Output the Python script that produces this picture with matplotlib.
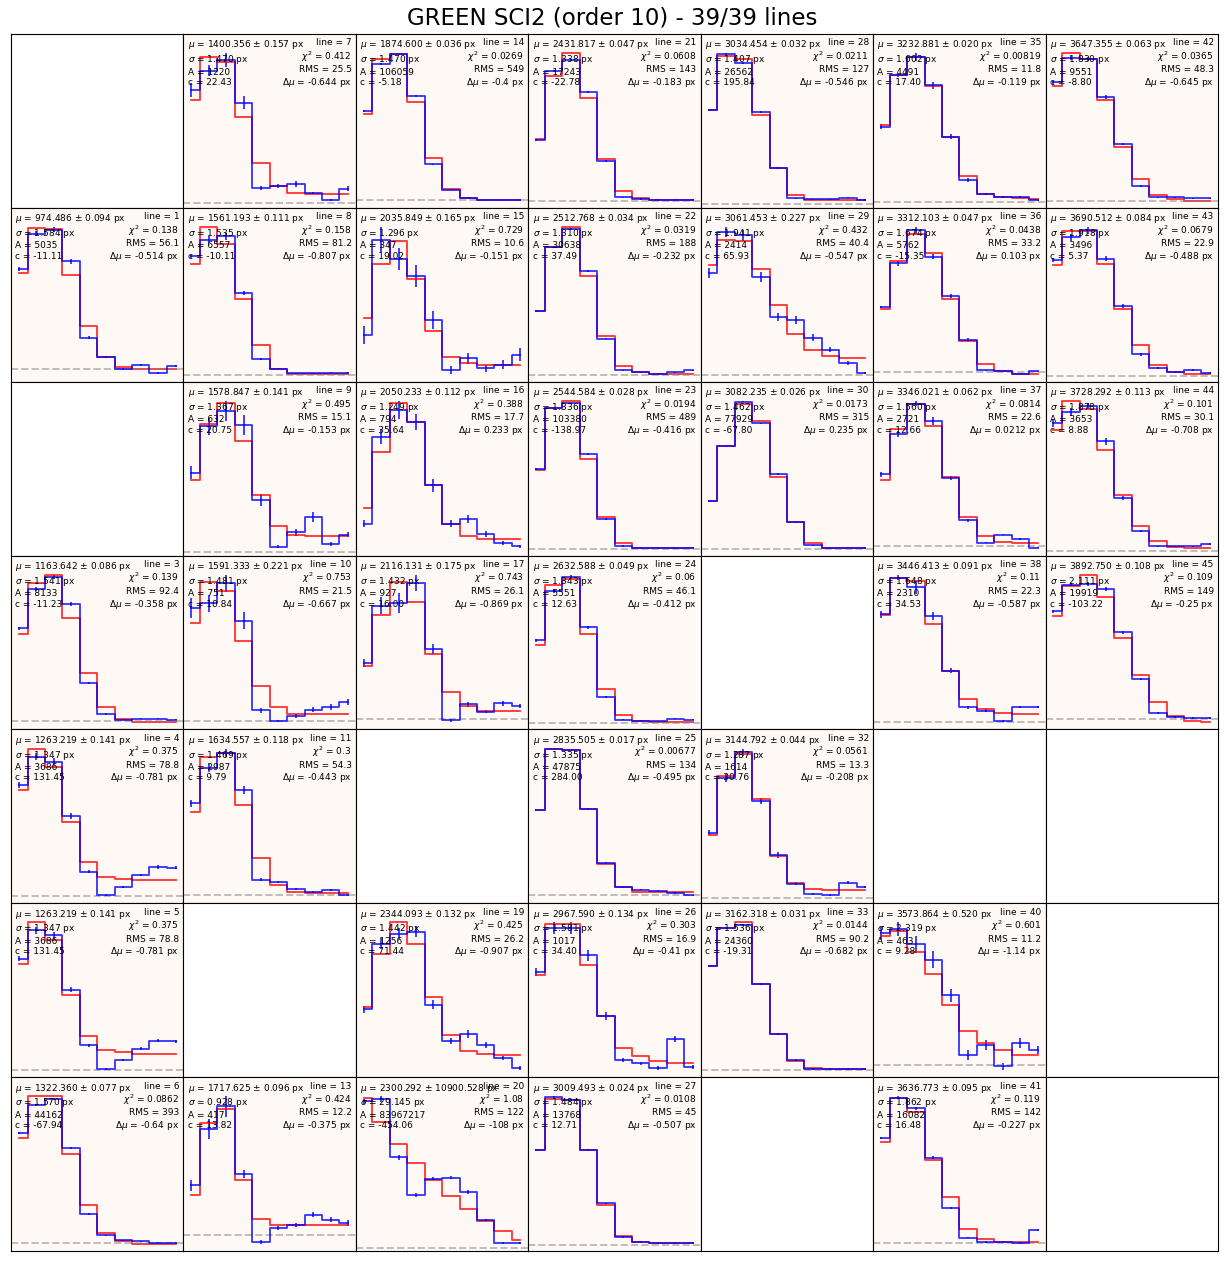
import numpy as np
import matplotlib.pyplot as plt

# fitted lines, laid out column-wise (7 per column)
line_ids = [1, 3, 4, 5, 6, 7, 8, 9, 10, 11, 13, 14, 15, 16, 17, 19, 20,
            21, 22, 23, 24, 25, 26, 27, 28, 29, 30, 32, 33, 35, 36, 37, 38,
            40, 41, 42, 43, 44, 45]

mu = [974.486, 1163.642, 1263.219, 1263.219, 1322.360, 1400.356, 1561.193, 1578.847,
      1591.333, 1634.557, 1717.625, 1874.600, 2035.849, 2050.233, 2116.131, 2344.093,
      2300.292, 2431.817, 2512.768, 2544.584, 2632.588, 2835.505, 2967.590, 3009.493,
      3034.454, 3061.453, 3082.235, 3144.792, 3162.318, 3232.881, 3312.103, 3346.021,
      3446.413, 3573.864, 3636.773, 3647.355, 3690.512, 3728.292, 3892.750]
mu_err = [0.094, 0.086, 0.141, 0.141, 0.077, 0.157, 0.111, 0.141, 0.221, 0.118, 0.096,
          0.036, 0.165, 0.112, 0.175, 0.132, 10900.528, 0.047, 0.034, 0.028, 0.049,
          0.017, 0.134, 0.024, 0.032, 0.227, 0.026, 0.044, 0.031, 0.020, 0.047, 0.062,
          0.091, 0.520, 0.095, 0.063, 0.084, 0.113, 0.108]
sigma = [1.584, 1.541, 1.347, 1.347, 1.570, 1.470, 1.535, 1.367, 1.481, 1.469, 0.928,
         1.470, 1.296, 1.249, 1.432, 1.442, 29.145, 1.338, 1.310, 1.336, 1.343, 1.335,
         1.581, 1.484, 1.407, 1.941, 1.462, 1.287, 1.536, 1.602, 1.674, 1.560, 1.648,
         2.319, 1.862, 1.830, 1.918, 1.878, 2.111]
amp = [5035, 8133, 3686, 3686, 44162, 1220, 6557, 632, 751, 2987, 417, 106059, 347,
       794, 927, 1256, 83967217, 17243, 30638, 103380, 5551, 47875, 1017, 13768, 26562,
       2414, 77929, 1614, 24360, 4491, 5762, 2721, 2310, 463, 16082, 9551, 3496, 3653,
       19919]
const = [-11.11, -11.23, 131.45, 131.45, -67.94, 22.43, -10.11, 20.75, 10.84, 9.79,
         13.82, -5.18, 19.02, 35.64, 16.00, 71.44, -454.06, -22.78, 37.49, -138.97,
         12.63, 284.00, 34.40, 12.71, 195.84, 65.93, -67.80, 30.76, -19.31, 17.40,
         -15.35, 12.66, 34.53, 9.28, 16.48, -8.80, 5.37, 8.88, -103.22]
chi2 = [0.138, 0.139, 0.375, 0.375, 0.0862, 0.412, 0.158, 0.495, 0.753, 0.3, 0.424,
        0.0269, 0.729, 0.388, 0.743, 0.425, 1.08, 0.0608, 0.0319, 0.0194, 0.06,
        0.00677, 0.303, 0.0108, 0.0211, 0.432, 0.0173, 0.0561, 0.0144, 0.00819,
        0.0438, 0.0814, 0.11, 0.601, 0.119, 0.0365, 0.0679, 0.101, 0.109]
rms = [56.1, 92.4, 78.8, 78.8, 393, 25.5, 81.2, 15.1, 21.5, 54.3, 12.2, 549, 10.6,
       17.7, 26.1, 26.2, 122, 143, 188, 489, 46.1, 134, 16.9, 45, 127, 40.4, 315, 13.3,
       90.2, 11.8, 33.2, 22.6, 22.3, 11.2, 142, 48.3, 22.9, 30.1, 149]
dmu = [-0.514, -0.358, -0.781, -0.781, -0.64, -0.644, -0.807, -0.153, -0.667, -0.443,
       -0.375, -0.4, -0.151, 0.233, -0.869, -0.907, -108, -0.183, -0.232, -0.416,
       -0.412, -0.495, -0.41, -0.507, -0.546, -0.547, 0.235, -0.208, -0.682, -0.119,
       0.103, 0.0212, -0.587, -1.14, -0.227, -0.645, -0.488, -0.708, -0.25]

# extracted line profile (blue) per line, relative counts
obs = {
    1: [301, 406, 418, 323, 93, 34, -2, 11, -14, 8],
    3: [275, 393, 428, 348, 113, 20, 3, 6, 6, 3],
    4: [333, 418, 403, 240, 73, 3, 28, 63, 87, 85],
    5: [333, 418, 403, 240, 73, 3, 28, 63, 87, 85],
    6: [327, 410, 427, 282, 85, 22, 7, 4, 0, 0],
    7: [333, 390, 421, 296, 45, 51, 57, 31, 11, 43],
    8: [352, 402, 412, 244, 49, 19, 5, 5, 7, 7],
    9: [234, 372, 417, 375, 152, 15, 57, 102, 24, 50],
    10: [337, 352, 412, 300, 32, 0, 15, 34, 42, 57],
    11: [272, 377, 422, 312, 45, 37, 19, 10, 15, 0],
    13: [148, 315, 383, 181, -20, 21, 30, 61, 46, 36],
    14: [265, 407, 435, 309, 106, 31, 7, 0, 0, 0],
    15: [142, 404, 352, 304, 182, 45, 77, 50, 60, 87],
    16: [95, 340, 415, 381, 203, 95, 108, 66, 40, 31],
    17: [170, 343, 351, 411, 213, -4, 45, 23, 48, 41],
    19: [200, 380, 407, 412, 213, 113, 133, 103, 67, 40],
    20: [433, 440, 268, 156, 205, 208, 165, 83, 16, 16],
    21: [179, 385, 419, 324, 118, 10, 5, 2, 2, 2],
    22: [192, 382, 435, 312, 108, 13, 7, 3, 7, 13],
    23: [236, 418, 431, 281, 88, 8, 3, 3, 3, 3],
    24: [245, 392, 433, 283, 77, 10, 7, 5, 13, 10],
    25: [255, 435, 432, 257, 97, 24, 17, 14, 7, 0],
    26: [303, 421, 421, 348, 185, 66, 57, 45, 123, 48],
    27: [280, 436, 428, 280, 123, 24, 9, 6, 6, 6],
    28: [278, 444, 419, 272, 106, 16, 13, 13, 18, 11],
    29: [302, 424, 414, 290, 172, 164, 110, 75, 36, 5],
    30: [140, 303, 435, 371, 221, 78, 10, 3, 3, 3],
    32: [190, 349, 424, 282, 125, 42, 12, 9, 45, 32],
    33: [303, 414, 423, 249, 105, 30, 3, 3, 3, 3],
    35: [226, 381, 436, 351, 196, 66, 24, 13, 13, 6],
    36: [195, 325, 423, 345, 228, 98, 6, 3, -4, 3],
    37: [212, 332, 422, 370, 200, 75, 9, 32, 20, -6],
    38: [315, 422, 393, 310, 150, 43, 33, 3, 45, 45],
    40: [390, 402, 357, 312, 207, 30, 60, -3, 66, 45],
    41: [294, 408, 378, 240, 99, 15, 3, 3, 0, 36],
    42: [352, 425, 420, 308, 168, 43, 10, 10, 7, 7],
    43: [342, 410, 430, 347, 207, 65, 24, 14, 20, 9],
    44: [380, 412, 430, 325, 155, 58, 13, 13, 13, 20],
    45: [320, 400, 402, 387, 257, 119, 17, 5, 2, 2],
}

obs_err = {
    1: [6, 8, 8, 8, 4, 3, 3, 3, 3, 3],
    3: [5, 6, 6, 5, 3, 2, 2, 2, 2, 2],
    4: [8, 10, 10, 8, 5, 3, 3, 4, 5, 5],
    5: [8, 10, 10, 8, 5, 3, 3, 4, 5, 5],
    6: [3, 3, 3, 3, 2, 2, 2, 2, 2, 2],
    7: [20, 15, 20, 18, 5, 5, 8, 3, 3, 8],
    8: [5, 10, 10, 5, 3, 2, 2, 2, 2, 2],
    9: [20, 25, 30, 30, 18, 5, 10, 15, 6, 8],
    10: [30, 25, 25, 25, 8, 3, 5, 8, 8, 10],
    11: [10, 12, 12, 12, 4, 3, 3, 3, 3, 3],
    13: [15, 30, 30, 12, 5, 5, 5, 8, 8, 8],
    14: [3, 3, 3, 3, 2, 2, 2, 2, 2, 2],
    15: [25, 35, 30, 30, 25, 12, 15, 10, 12, 18],
    16: [10, 22, 25, 22, 18, 10, 12, 8, 5, 5],
    17: [12, 25, 30, 25, 15, 5, 8, 5, 8, 6],
    19: [10, 15, 15, 15, 12, 8, 10, 8, 6, 5],
    20: [8, 8, 8, 6, 5, 5, 5, 4, 3, 3],
    21: [3, 3, 3, 3, 2, 2, 2, 2, 2, 2],
    22: [3, 3, 3, 3, 2, 2, 2, 2, 2, 2],
    23: [2, 2, 2, 2, 2, 2, 2, 2, 2, 2],
    24: [5, 6, 6, 5, 3, 2, 2, 2, 2, 2],
    25: [2, 2, 2, 2, 2, 2, 2, 2, 2, 2],
    26: [10, 15, 15, 15, 10, 5, 5, 5, 8, 5],
    27: [3, 3, 3, 3, 2, 2, 2, 2, 2, 2],
    28: [3, 3, 3, 3, 2, 2, 2, 2, 2, 2],
    29: [15, 15, 15, 15, 12, 12, 10, 8, 6, 4],
    30: [2, 2, 2, 2, 2, 2, 2, 2, 2, 2],
    32: [8, 12, 10, 10, 8, 4, 3, 3, 4, 4],
    33: [3, 3, 3, 3, 2, 2, 2, 2, 2, 2],
    35: [8, 5, 12, 10, 8, 6, 3, 3, 3, 3],
    36: [4, 8, 10, 8, 5, 4, 2, 2, 2, 2],
    37: [8, 8, 8, 12, 6, 4, 2, 2, 2, 2],
    38: [10, 8, 18, 12, 8, 4, 4, 3, 3, 3],
    40: [20, 20, 25, 25, 20, 15, 15, 10, 15, 12],
    41: [3, 4, 4, 4, 3, 2, 2, 2, 2, 2],
    42: [4, 6, 6, 5, 4, 3, 2, 2, 2, 2],
    43: [6, 10, 10, 8, 6, 4, 3, 3, 3, 3],
    44: [12, 12, 10, 10, 6, 4, 2, 2, 2, 2],
    45: [4, 5, 6, 6, 4, 3, 2, 2, 2, 2],
}

# gaussian + constant model (red)
model = {
    1: [288, 423, 421, 281, 129, 34, 5, -2, -2, -2],
    3: [258, 411, 435, 305, 141, 41, 6, -4, -4, -4],
    4: [318, 442, 388, 223, 102, 58, 52, 48, 48, 48],
    5: [318, 442, 388, 223, 102, 58, 52, 48, 48, 48],
    6: [310, 435, 435, 265, 112, 30, 4, -3, -3, -3],
    7: [303, 431, 415, 255, 117, 51, 29, 27, 27, 27],
    8: [330, 439, 389, 225, 89, 19, 4, 2, 2, 2],
    9: [212, 379, 440, 329, 169, 75, 50, 45, 45, 45],
    10: [294, 415, 389, 240, 105, 42, 22, 22, 22, 22],
    11: [247, 409, 422, 267, 109, 30, 10, 7, 7, 7],
    13: [121, 333, 376, 165, 48, 31, 31, 31, 31, 31],
    14: [256, 422, 435, 292, 124, 34, 7, 0, 0, 0],
    15: [189, 337, 400, 295, 152, 82, 64, 60, 60, 60],
    16: [138, 296, 435, 381, 205, 93, 60, 53, 53, 53],
    17: [161, 315, 413, 355, 198, 83, 40, 26, 26, 26],
    19: [208, 352, 438, 380, 235, 130, 87, 78, 75, 75],
    20: [443, 371, 308, 251, 200, 155, 115, 81, 50, 23],
    21: [184, 371, 438, 304, 125, 28, 7, 2, 2, 2],
    22: [190, 382, 442, 295, 115, 27, 7, 3, 3, 3],
    23: [233, 418, 438, 266, 95, 18, 3, 3, 3, 3],
    24: [232, 410, 427, 265, 100, 25, 7, 3, 3, 3],
    25: [255, 435, 432, 257, 92, 25, 10, 10, 10, 10],
    26: [295, 433, 433, 323, 185, 99, 78, 63, 57, 57],
    27: [280, 430, 428, 280, 118, 27, 9, 6, 6, 6],
    28: [278, 439, 429, 263, 106, 25, 11, 11, 11, 11],
    29: [327, 402, 398, 314, 207, 120, 75, 55, 50, 50],
    30: [140, 303, 428, 378, 213, 78, 18, 3, 3, 3],
    32: [182, 355, 417, 287, 122, 45, 27, 24, 24, 24],
    33: [303, 414, 429, 249, 105, 27, 6, 3, 3, 3],
    35: [231, 381, 436, 348, 194, 76, 24, 13, 10, 8],
    36: [188, 333, 413, 356, 218, 93, 26, 3, -4, -4],
    37: [195, 347, 422, 354, 204, 85, 27, 10, 7, 7],
    38: [313, 422, 412, 285, 150, 67, 37, 27, 25, 25],
    40: [381, 396, 336, 270, 177, 102, 66, 45, 30, 30],
    41: [285, 408, 369, 234, 129, 39, 12, 3, 3, 3],
    42: [342, 438, 420, 300, 160, 63, 18, 5, 0, 0],
    43: [329, 427, 429, 332, 200, 92, 35, 12, 7, 7],
    44: [360, 445, 422, 300, 165, 73, 28, 10, 7, 7],
    45: [305, 397, 429, 364, 242, 129, 50, 7, -8, -10],
}

n_rows = 7
n_cols = 7

fig, axes = plt.subplots(n_rows, n_cols, figsize=(12.25, 12.62), dpi=100)
plt.subplots_adjust(left=0.009, right=0.9943, top=0.973, bottom=0.0087,
                    wspace=0, hspace=0)
fig.suptitle('GREEN SCI2 (order 10) - 39/39 lines', fontsize=16.5, y=0.995)

for ax in axes.flat:
    ax.set_xticks([])
    ax.set_yticks([])

for i, n in enumerate(line_ids):
    ax = axes[n % n_rows, n // n_rows]
    ax.set_facecolor('#fff9f6')

    y = np.array(obs[n], dtype=float)
    ye = np.array(obs_err[n], dtype=float)
    m = np.array(model[n], dtype=float)
    x = np.arange(len(y))

    ax.errorbar(x, y, yerr=ye, drawstyle='steps-mid', color='blue', alpha=0.8,
                lw=1.3, elinewidth=1.3)
    ax.plot(x, m, drawstyle='steps-mid', color='red', alpha=0.8, lw=1.3)
    ax.axhline(0, color='gray', ls='--', lw=1.4, alpha=0.5)

    lo = min((y - ye).min(), m.min())
    hi = max((y + ye).max(), m.max())
    r = hi - lo
    ax.set_ylim(lo - 0.05 * r, hi + 0.13 * r)
    ax.set_xlim(-0.45, len(y) - 0.55)

    left_txt = (f'$\\mu$ = {mu[i]:.3f} ± {mu_err[i]:.3f} px\n'
                f'$\\sigma$ = {sigma[i]:.3f} px\n'
                f'A = {amp[i]}\n'
                f'c = {const[i]:.2f}')
    right_txt = (f'line = {n}\n'
                 f'$\\chi^2$ = {chi2[i]:.3g}\n'
                 f'RMS = {rms[i]:.3g}\n'
                 f'$\\Delta\\mu$ = {dmu[i]:.3g} px')
    ax.text(0.025, 0.975, left_txt, transform=ax.transAxes, ha='left', va='top',
            fontsize=6.5)
    ax.text(0.975, 0.975, right_txt, transform=ax.transAxes, ha='right', va='top',
            fontsize=6.5)

plt.savefig('out.png', dpi=100)
